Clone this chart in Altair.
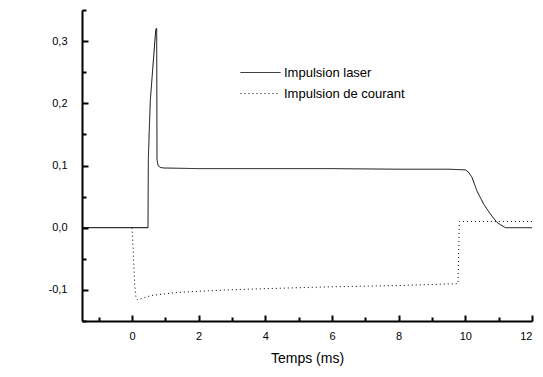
import altair as alt
import pandas as pd

# ---- data ----
series_names = ["Impulsion laser", "Impulsion de courant"]

laser_t = [-1.5, 0.48, 0.49, 0.52, 0.55, 0.60, 0.65, 0.70, 0.72, 0.74, 0.75, 0.78,
           0.85, 0.95, 2.0, 4.0, 6.0, 8.0, 9.5, 10.0, 10.1, 10.2, 10.35, 10.55, 10.75,
           10.95, 11.2, 12.0]
laser_v = [0.0, 0.0, 0.11, 0.16, 0.205, 0.24, 0.275, 0.31, 0.32, 0.32, 0.11, 0.10,
           0.097, 0.096, 0.095, 0.095, 0.095, 0.094, 0.094, 0.093, 0.089, 0.081, 0.059,
           0.038, 0.022, 0.0085, 0.0, 0.0]

current_t = [0.0, 0.03, 0.08, 0.12, 0.17, 0.57, 1.37, 2.86, 4.0, 6.0, 8.0, 9.78,
             9.82, 12.0]
current_v = [0.0, -0.03, -0.09, -0.113, -0.116, -0.109, -0.104, -0.100, -0.098,
             -0.095, -0.093, -0.090, 0.01, 0.01]

x_major = [0, 2, 4, 6, 8, 10, 12]
x_minor = [-1, 1, 3, 5, 7, 9, 11]
y_major = [-0.1, 0.0, 0.1, 0.2, 0.3]
y_minor = [-0.15, -0.05, 0.05, 0.15, 0.25, 0.35]

df = pd.concat([
    pd.DataFrame({"t": laser_t, "v": laser_v, "s": series_names[0],
                  "o": list(range(len(laser_t)))}),
    pd.DataFrame({"t": current_t, "v": current_v, "s": series_names[1],
                  "o": list(range(len(current_t)))}),
])

FONT = "Liberation Sans"
xs = alt.Scale(domain=[-1.5, 12], nice=False, zero=False)
ys = alt.Scale(domain=[-0.15, 0.35], nice=False, zero=False)
comma = "(datum.value < 0 ? '-' : '') + replace(format(abs(datum.value), '.1f'), '.', ',')"

main = alt.Chart(df).mark_line(color="black", strokeWidth=1).encode(
    x=alt.X("t:Q", scale=xs, axis=alt.Axis(
        orient="bottom", values=x_major, ticks=False, grid=False, domain=True,
        domainColor="black", domainWidth=2, labelFont=FONT, labelFontSize=11,
        labelColor="black", labelPadding=9, title="Temps (ms)", titleFont=FONT,
        titleFontSize=14, titleFontWeight="normal", titleColor="black",
        titlePadding=10)),
    y=alt.Y("v:Q", scale=ys, axis=alt.Axis(
        orient="left", values=y_major, ticks=False, grid=False, domain=True,
        domainColor="black", domainWidth=2, labelFont=FONT, labelFontSize=11,
        labelColor="black", labelPadding=15, labelExpr=comma, title=None)),
    strokeDash=alt.StrokeDash("s:N", scale=alt.Scale(
        domain=series_names, range=[[1, 0], [1, 3]]),
        legend=alt.Legend(title=None, orient="none", legendX=158, legendY=55,
                          symbolType="stroke", symbolSize=1600,
                          symbolStrokeColor="black", symbolStrokeWidth=1,
                          clipHeight=15, labelFont=FONT, labelFontSize=13,
                          labelColor="black", labelOffset=3, rowPadding=6)),
    order="o:Q",
)

def tick_layer(xv, yv, size):
    return alt.Chart(df).mark_point(opacity=0).encode(
        x=alt.X("t:Q", scale=xs, axis=alt.Axis(
            orient="bottom", values=xv, labels=False, domain=False, grid=False,
            ticks=True, tickSize=size, tickWidth=2, tickColor="black",
            offset=-size, title=None)),
        y=alt.Y("v:Q", scale=ys, axis=alt.Axis(
            orient="left", values=yv, labels=False, domain=False, grid=False,
            ticks=True, tickSize=size, tickWidth=2, tickColor="black",
            offset=-size, title=None)),
    )

chart = alt.layer(main, tick_layer(x_major, y_major, 6),
                  tick_layer(x_minor, y_minor, 4)).resolve_axis(
    x="independent", y="independent"
).properties(
    width=450, height=311,
    autosize=alt.AutoSizeParams(type="none"),
    padding={"left": 82, "top": 10, "right": 11, "bottom": 56},
    background="white",
).configure_view(stroke=None)

chart.save("out.html", embed_options={"renderer": "svg", "actions": False})
